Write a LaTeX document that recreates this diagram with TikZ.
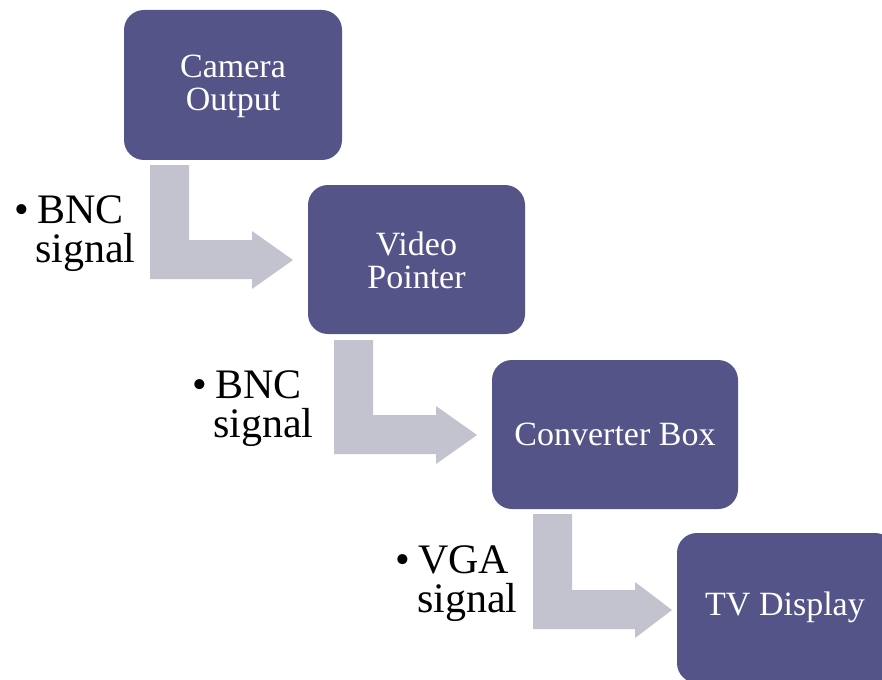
\documentclass[tikz,border=0pt]{standalone}
\usepackage{fontspec}
\setmainfont{Liberation Serif}
\definecolor{boxblue}{RGB}{84,84,137}
\definecolor{arrowgray}{RGB}{195,195,208}
\begin{document}
\begin{tikzpicture}[x=1pt,y=-1pt,
  stepbox/.style={fill=boxblue, rounded corners=20pt, draw=none},
  boxtext/.style={text=white, align=center, font=\fontsize{34}{33}\selectfont, inner sep=0pt},
  bentarrow/.style={fill=arrowgray, draw=none},
  lbl/.style={anchor=base west, inner sep=0pt, align=left, font=\fontsize{42}{38.5}\selectfont}]
\clip (0,0) rectangle (882,679);
\fill[white] (0,0) rectangle (882,679);
% boxes
\path[stepbox] (124,10) rectangle (342,160);
\node[boxtext] (cam) at (233,86) {Camera\\Output};
\path[stepbox] (308,185) rectangle (525,334);
\node[boxtext] (vp) at (416.5,260.5) {Video\\Pointer};
\path[stepbox] (492,360) rectangle (738,509);
\node[boxtext] (cb) at (615,434.5) {Converter Box};
\path[stepbox] (677,533) rectangle (895,683);
\node[boxtext] (tv) at (785,607) {TV Display};
% bent arrows
\path[bentarrow] (150,165) -- (189,165) -- (189,240) -- (252,240) -- (252,231) -- (293,260) -- (252,289) -- (252,279) -- (150,279) -- cycle;
\path[bentarrow] (334,340) -- (373,340) -- (373,415) -- (436,415) -- (436,406) -- (477,435) -- (436,464) -- (436,454) -- (334,454) -- cycle;
\path[bentarrow] (533,514) -- (572,514) -- (572,590) -- (635,590) -- (635,582) -- (672,610) -- (635,638) -- (635,629) -- (533,629) -- cycle;
% labels
\node[lbl] (l1) at (37,262) {\llap{\textbullet\hspace{8pt}}BNC\\\hspace{-2pt}signal};
\node[lbl] (l2) at (215,437) {\llap{\textbullet\hspace{8pt}}BNC\\\hspace{-2pt}signal};
\node[lbl] (l3) at (418,612) {\llap{\textbullet\hspace{8pt}}VGA\\\hspace{-1pt}signal};
\end{tikzpicture}
\end{document}
